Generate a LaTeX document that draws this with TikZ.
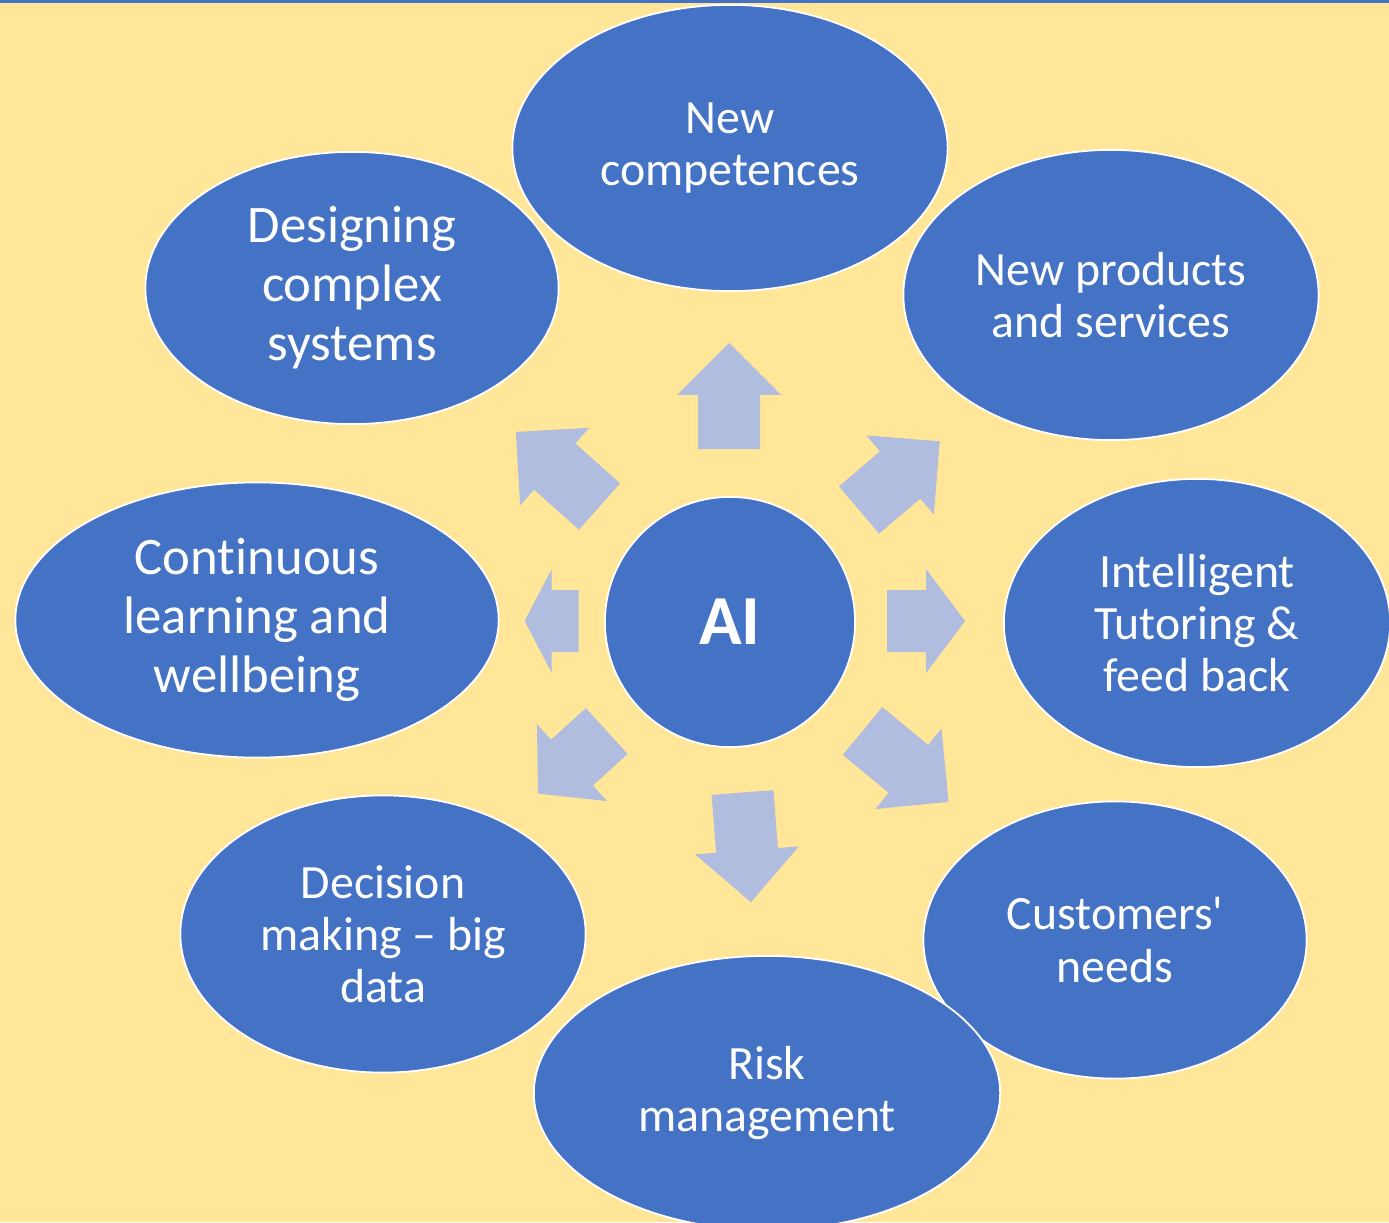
\documentclass[tikz,border=0pt]{standalone}
\usepackage{fontspec}
\setmainfont{Carlito}[Ligatures=NoCommon]
\usetikzlibrary{shapes.geometric}

\definecolor{cream}{HTML}{FFE699}
\definecolor{bubbleblue}{HTML}{4472C4}
\definecolor{arrowblue}{HTML}{B0BDDF}

\tikzset{
  bubble/.style={ellipse, fill=bubbleblue, draw=white, line width=0.5pt, inner sep=0pt,
    text=white, align=center, font=\fontsize{13.6}{14.8}\selectfont},
  bigbubble/.style={bubble, font=\fontsize{15}{16.8}\selectfont},
  hub/.style={circle, fill=bubbleblue, draw=white, line width=0.5pt, inner sep=0pt,
    minimum size=2.5cm, text=white, font=\fontsize{20}{24}\selectfont\bfseries},
  flow/.style={fill=arrowblue}
}

% block arrow: start, angle, length, head length
\newcommand{\flowarrow}[4]{
  \begin{scope}[shift={(#1)}, rotate=#2]
    \fill[flow] (0,-31) -- ({#3-#4},-31) -- ({#3-#4},-52) -- (#3,0)
      -- ({#3-#4},52) -- ({#3-#4},31) -- (0,31) -- cycle;
  \end{scope}
}

\begin{document}
\begin{tikzpicture}[x=0.01cm, y=-0.01cm]

    \useasboundingbox (0,0) rectangle (1389,1222);
    \fill[cream] (0,0) rectangle (1389,1222);
    \clip (0,0) rectangle (1389,1222);

    % top rule
    \fill[bubbleblue] (0,0) rectangle (1389,3);

    % arrows round the hub
    \flowarrow{729,449}{90}{106}{52}
    \flowarrow{859,510}{40.4}{106}{52}
    \flowarrow{887,621}{0}{78}{39}
    \flowarrow{862.5,731}{-39.5}{111.5}{52}
    \flowarrow{742.5,792.5}{-85.6}{110}{52}
    \flowarrow{606.7,731}{222.3}{93}{46}
    \flowarrow{578.7,621}{180}{54}{27}
    \flowarrow{599.5,506.5}{138.3}{112}{52}

    % outer bubbles
    \node[bubble, minimum width=4.35cm, minimum height=2.86cm] (comp) at (730,148) {New\\competences};
    \node[bubble, minimum width=4.15cm, minimum height=2.90cm] (prod) at (1111,295) {New products\\and services};
    \node[bubble, minimum width=3.86cm, minimum height=2.88cm] (tutor) at (1197,623) {Intelligent\\Tutoring \&\\feed back};
    \node[bubble, minimum width=3.83cm, minimum height=2.77cm] (cust) at (1115,940) {Customers\textquotesingle\\needs};
    \node[bubble, minimum width=4.66cm, minimum height=2.74cm] (risk) at (767,1093) {Risk\\management};
    \node[bubble, minimum width=4.05cm, minimum height=2.77cm] (decis) at (383,934) {Decision\\making – big\\data};
    \node[bigbubble, minimum width=4.83cm, minimum height=2.75cm] (learn) at (257,620) {Continuous\\learning and\\wellbeing};
    \node[bigbubble, minimum width=4.13cm, minimum height=2.72cm] (design) at (352,288) {Designing\\complex\\systems};

    % centre
    \node[hub] (ai) at (730,622) {AI};

\end{tikzpicture}
\end{document}
